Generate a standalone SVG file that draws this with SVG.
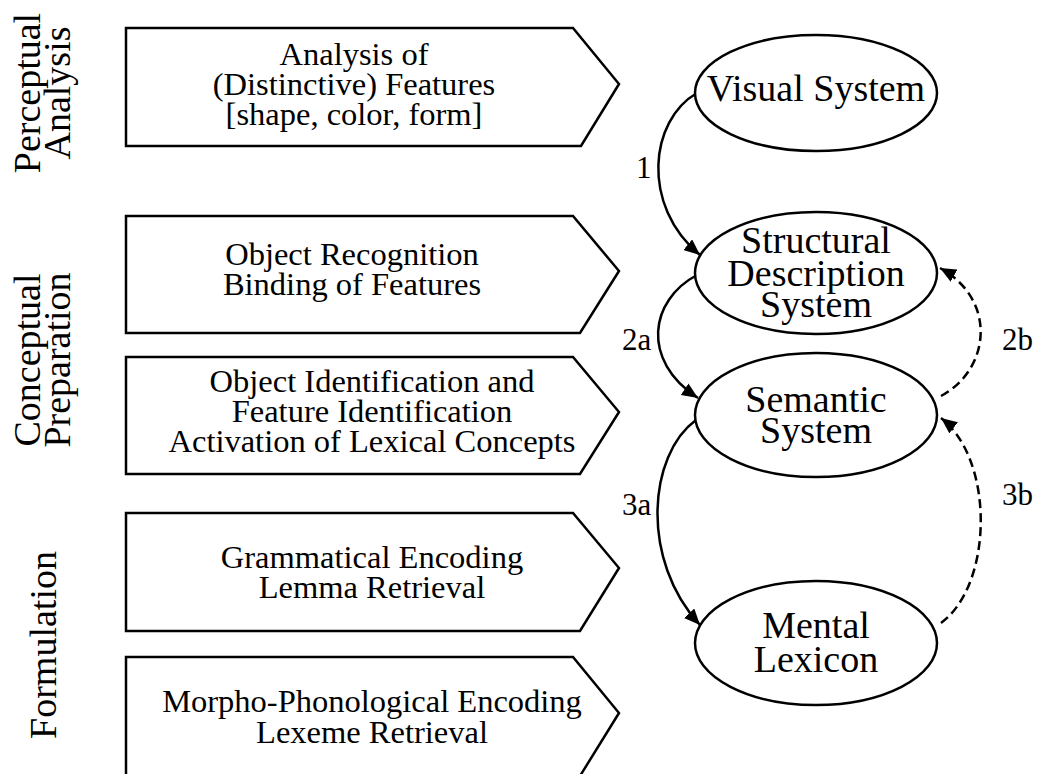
<svg xmlns="http://www.w3.org/2000/svg" width="1037" height="774" viewBox="0 0 1037 774">
  <style>
    text { font-family: "Liberation Serif", "Times New Roman", serif; fill: #000; }
    .stage { font-size: 38px; text-anchor: middle; }
    .step { font-size: 32.5px; text-anchor: middle; }
    .node { font-size: 38px; text-anchor: middle; }
    .lbl { font-size: 31px; }
    .box { fill: #fff; stroke: #000; stroke-width: 2.5; stroke-linejoin: miter; }
    .ell { fill: #fff; stroke: #000; stroke-width: 2.5; }
    .edge { fill: none; stroke: #000; stroke-width: 2.5; }
    .dash { stroke-dasharray: 9 5; }
  </style>
  <defs>
    <marker id="arrow" markerUnits="userSpaceOnUse" markerWidth="18" markerHeight="14" refX="16" refY="7" orient="auto">
      <path d="M0,0 L16,7 L0,14 Z" fill="#000"/>
    </marker>
  </defs>

  <rect width="1037" height="774" fill="#fff"/>

  <!-- stage labels -->
  <g id="stage-perceptual">
    <text class="stage" transform="translate(40,93) rotate(-90)">Perceptual</text>
    <text class="stage" transform="translate(70,93) rotate(-90)">Analysis</text>
  </g>
  <g id="stage-conceptual">
    <text class="stage" transform="translate(40,360) rotate(-90)">Conceptual</text>
    <text class="stage" transform="translate(70,360) rotate(-90)">Preparation</text>
  </g>
  <g id="stage-formulation">
    <text class="stage" transform="translate(56,645) rotate(-90)">Formulation</text>
  </g>

  <!-- processing steps -->
  <g id="step-features">
    <path class="box" d="M126,28 H573 L619,84 L581,146 H126 Z"/>
    <text class="step" x="354" y="65">Analysis of</text>
    <text class="step" x="354" y="95">(Distinctive) Features</text>
    <text class="step" x="354" y="125">[shape, color, form]</text>
  </g>
  <g id="step-recognition">
    <path class="box" d="M126,216 H573 L619,271 L580,333 H126 Z"/>
    <text class="step" x="352" y="265">Object Recognition</text>
    <text class="step" x="352" y="295">Binding of Features</text>
  </g>
  <g id="step-identification">
    <path class="box" d="M126,357 H573 L619,412 L580,474 H126 Z"/>
    <text class="step" x="372" y="392">Object Identification and</text>
    <text class="step" x="372" y="422">Feature Identification</text>
    <text class="step" x="372" y="452">Activation of Lexical Concepts</text>
  </g>
  <g id="step-grammatical">
    <path class="box" d="M126,513 H573 L619,568 L580,631 H126 Z"/>
    <text class="step" x="372" y="568">Grammatical Encoding</text>
    <text class="step" x="372" y="598">Lemma Retrieval</text>
  </g>
  <g id="step-phonological">
    <path class="box" d="M126,657 H573 L619,713 L580,776 H126 Z"/>
    <text class="step" x="372" y="712">Morpho-Phonological Encoding</text>
    <text class="step" x="372" y="743">Lexeme Retrieval</text>
  </g>

  <!-- connectors -->
  <g id="connectors">
    <path class="edge" d="M697,93 C650,120 640,205 700,255" marker-end="url(#arrow)"/>
    <path class="edge" d="M697,275 C650,300 640,360 698,398" marker-end="url(#arrow)"/>
    <path class="edge" d="M696,420 C648,455 640,560 700,625" marker-end="url(#arrow)"/>
    <path class="edge dash" d="M941,396 C990,370 998,300 940,268" marker-end="url(#arrow)"/>
    <path class="edge dash" d="M941,623 C993,585 995,460 941,418" marker-end="url(#arrow)"/>
    <text class="lbl" x="636" y="178">1</text>
    <text class="lbl" x="622" y="350">2a</text>
    <text class="lbl" x="622" y="515">3a</text>
    <text class="lbl" x="1002" y="350">2b</text>
    <text class="lbl" x="1002" y="505">3b</text>
  </g>

  <!-- systems -->
  <g id="node-visual">
    <ellipse class="ell" cx="816" cy="93" rx="121" ry="58"/>
    <text class="node" x="816" y="101">Visual System</text>
  </g>
  <g id="node-structural">
    <ellipse class="ell" cx="816" cy="273" rx="121" ry="61"/>
    <text class="node" x="816" y="253">Structural</text>
    <text class="node" x="816" y="286">Description</text>
    <text class="node" x="816" y="317">System</text>
  </g>
  <g id="node-semantic">
    <ellipse class="ell" cx="816" cy="415" rx="121" ry="62"/>
    <text class="node" x="816" y="412">Semantic</text>
    <text class="node" x="816" y="443">System</text>
  </g>
  <g id="node-lexicon">
    <ellipse class="ell" cx="816" cy="643" rx="121" ry="62"/>
    <text class="node" x="816" y="638">Mental</text>
    <text class="node" x="816" y="672">Lexicon</text>
  </g>
</svg>
